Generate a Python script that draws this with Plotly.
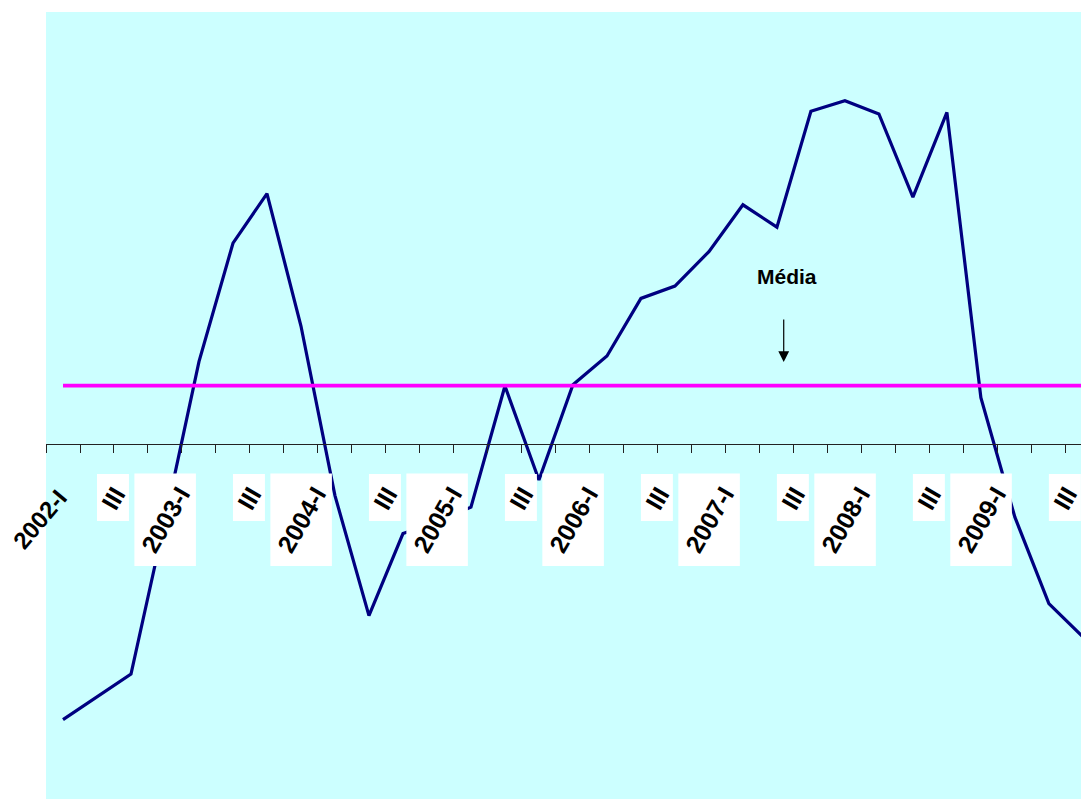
import plotly.graph_objects as go

# ---- data ----
years = ["2002", "2003", "2004", "2005", "2006", "2007", "2008", "2009"]
quarters = ["I", "II", "III", "IV"]
categories = [f"{y}-{q}" for y in years for q in quarters][:31]   # 2002-I ... 2009-III

serie = [-6.89, -6.33, -5.75, -1.90, 2.06, 5.02, 6.26, 2.95,
         -1.29, -4.29, -2.24, -1.95, -1.58, 1.45, -0.90, 1.48,
         2.20, 3.64, 3.95, 4.81, 5.98, 5.42, 8.32, 8.58,
         8.25, 6.17, 8.29, 1.16, -1.83, -3.99, -4.82]
media_value = 1.46
media = [media_value] * len(categories)

# labels shown on the axis (every other quarter: I and III)
tick_labels = []
for c in categories:
    y, q = c.split("-")
    if q == "I":
        tick_labels.append(c)
    elif q == "III":
        tick_labels.append("III")
    else:
        tick_labels.append("")

Y_RANGE = [-8.875, 10.8]
X_RANGE = [-0.5, 30.18]

fig = go.Figure()
fig.add_trace(go.Scatter(x=list(range(len(categories))), y=serie, mode="lines",
                         line=dict(color="#000080", width=3.2), hoverinfo="skip",
                         showlegend=False))
fig.add_trace(go.Scatter(x=list(range(len(categories))), y=media, mode="lines",
                         line=dict(color="#FF00FF", width=3.8), hoverinfo="skip",
                         showlegend=False))

shapes = []
annotations = []
label_font = dict(family="Liberation Sans, Arial, sans-serif", size=25, color="black", weight="bold")
for i, lab in enumerate(tick_labels):
    if not lab:
        continue
    if i == 0:
        annotations.append(dict(x=0.34, y=-0.95, xref="x", yref="y", text=lab, showarrow=False,
                                xanchor="right", yanchor="top", textangle=-50,
                                font=dict(label_font, size=24)))
        continue
    if lab == "III":
        x0, x1, y0, y1 = i - 1.0, i - 0.06, -0.75, -1.925
    else:
        x0, x1, y0, y1 = i - 1.9, i - 0.09, -0.74, -3.05
    shapes.append(dict(type="rect", xref="x", yref="y", x0=x0, x1=x1, y0=y0, y1=y1,
                       fillcolor="white", line=dict(width=0), layer="above"))
    annotations.append(dict(x=(x0 + x1) / 2, y=(y0 + y1) / 2, xref="x", yref="y", text=lab,
                            showarrow=False, xanchor="center", yanchor="middle",
                            textangle=-60, font=label_font))

# "Média" label and arrow
annotations.append(dict(x=21.3, y=4.2, xref="x", yref="y", text="Média", showarrow=False,
                        font=dict(family="Liberation Sans Narrow, Liberation Sans, Arial", size=21,
                                  color="black", weight="bold")))
annotations.append(dict(x=21.2, y=2.05, xref="x", yref="y", ax=21.2, ay=3.15, axref="x", ayref="y",
                        text="", showarrow=True, arrowhead=2, arrowsize=1.8, arrowwidth=1.2,
                        arrowcolor="black"))

zero_pos = (0 - Y_RANGE[0]) / (Y_RANGE[1] - Y_RANGE[0])

fig.update_layout(
    width=1089, height=799,
    margin=dict(l=38, r=8, t=4, b=8),
    paper_bgcolor="white",
    plot_bgcolor="#CCFFFF",
    xaxis=dict(range=X_RANGE, tickmode="array", tickvals=[i - 0.5 for i in range(32)],
               ticktext=[""] * 32, ticks="outside", ticklen=8, tickcolor="#222222", tickwidth=1,
               showline=True, linecolor="#222222", linewidth=1, showgrid=False, zeroline=False,
               anchor="free", position=zero_pos, showticklabels=False),
    yaxis=dict(range=Y_RANGE, showgrid=False, zeroline=False, showticklabels=False,
               showline=False, ticks=""),
    shapes=shapes,
    annotations=annotations,
)

fig.write_html("out.html")
